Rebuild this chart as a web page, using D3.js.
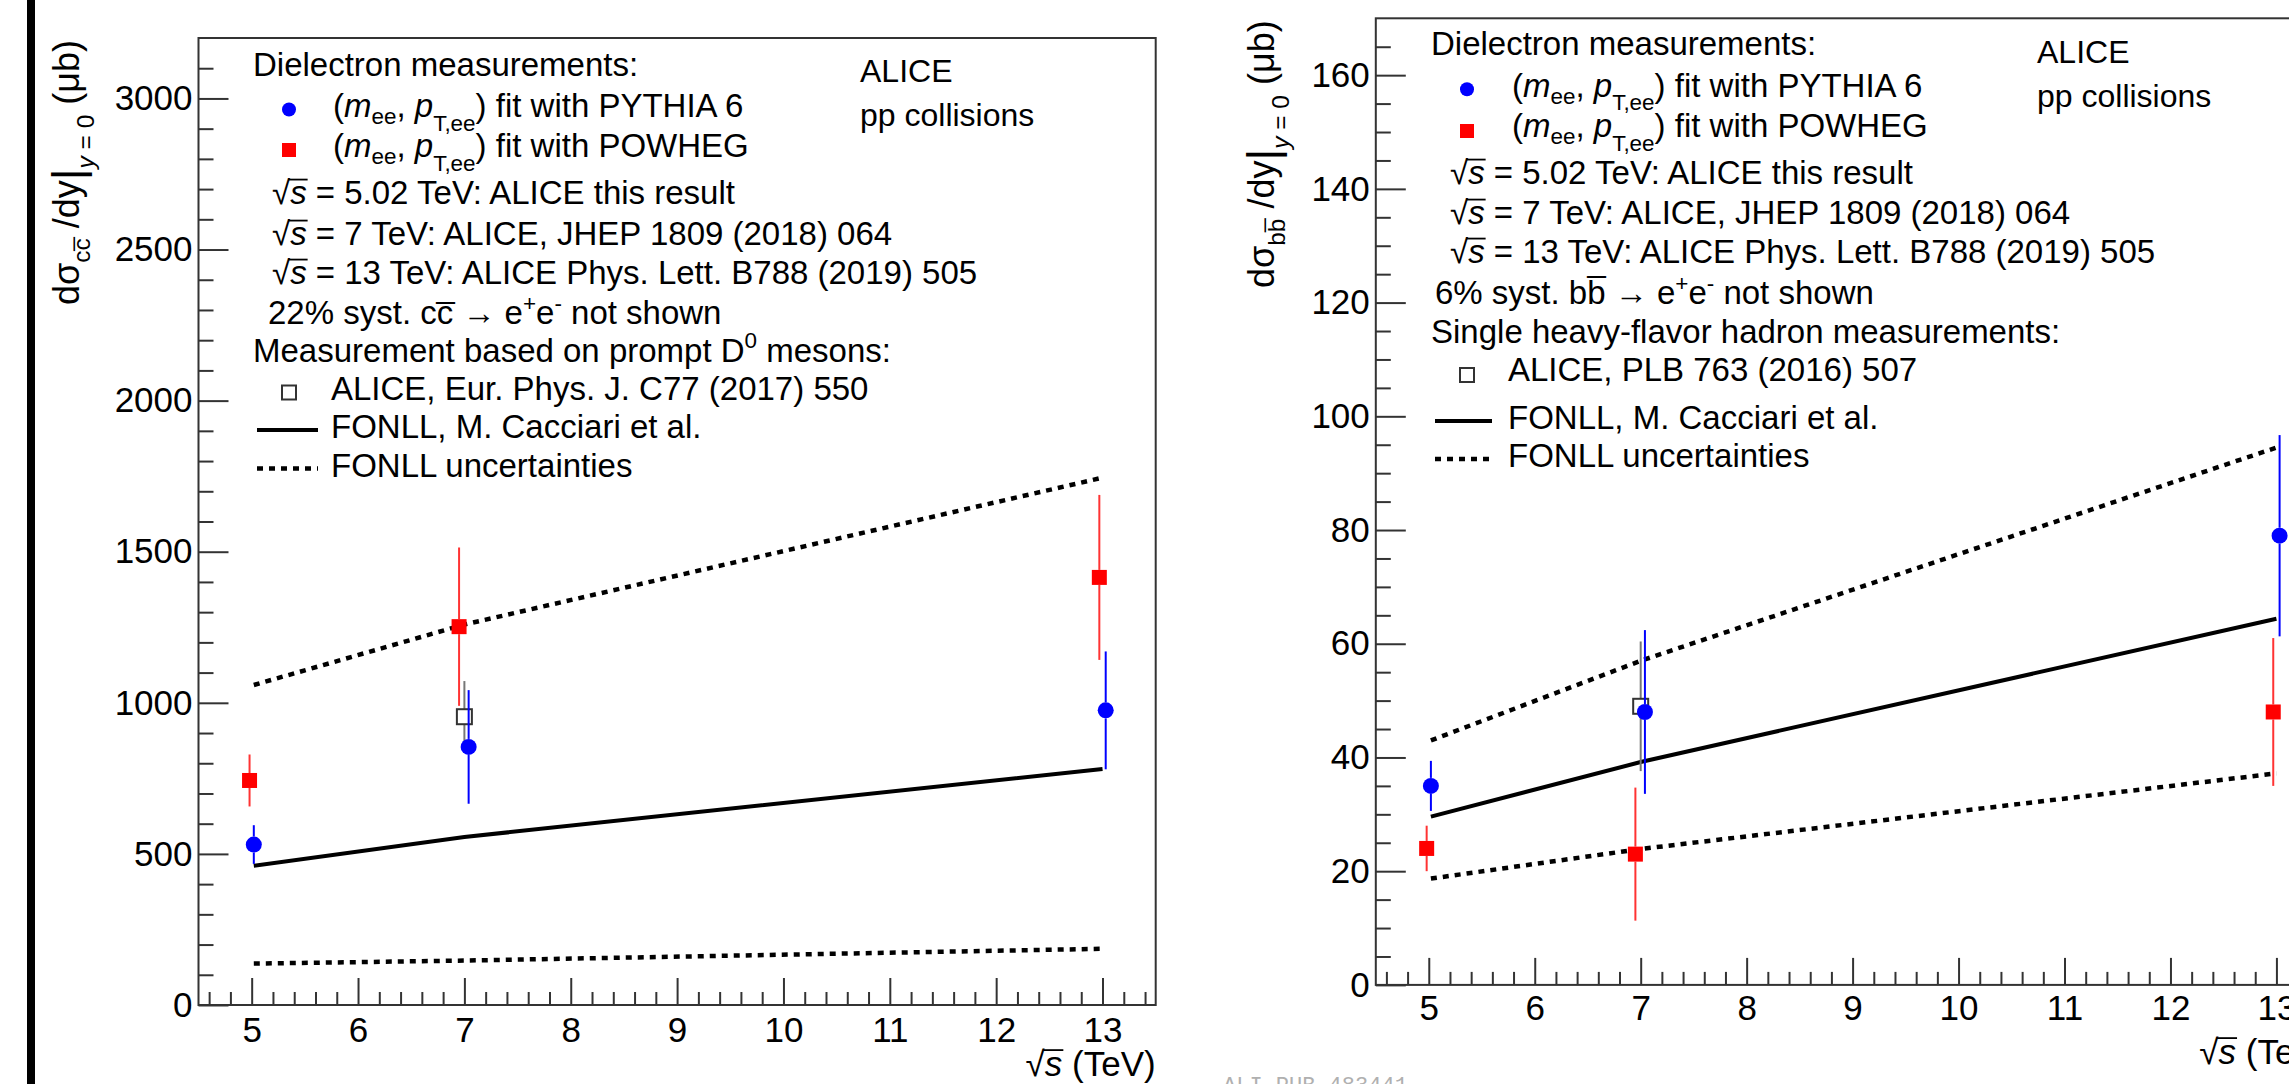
<!DOCTYPE html>
<html><head><meta charset="utf-8">
<script src="https://cdnjs.cloudflare.com/ajax/libs/d3/7.8.5/d3.min.js"></script>
<style>
html,body{margin:0;padding:0;background:#fff;overflow:hidden;}
svg{display:block;}
text{font-family:"Liberation Sans",Arial,Helvetica,sans-serif;fill:#000;white-space:pre;}
</style></head><body>
<svg id="c" width="2289" height="1084"></svg>
<script>
// ---------------- DATA ----------------
const energies = [5.02, 7, 13];          // FONLL evaluation points (TeV)
const pythiaX  = [5.02, 7.04, 13.03];    // drawn position of PYTHIA points
const powhegX  = [4.98, 6.95, 12.97];    // drawn position of POWHEG points
const refX     = [7.0];                  // reference (single-hadron) measurement
const xTicks   = [5, 6, 7, 8, 9, 10, 11, 12, 13];

// charm (left)
const ccPythia    = [531, 854, 975];
const ccPythiaErr = [64, 188, 195];
const ccPowheg    = [743, 1252, 1415];
const ccPowhegErr = [86, 262, 273];
const ccD0        = [954];
const ccD0Err     = [118];
const ccFonll     = [461, 556, 781];
const ccFonllHigh = [1059, 1259, 1745];
const ccFonllLow  = [137, 147, 186];
const ccYTicks    = [0, 500, 1000, 1500, 2000, 2500, 3000];

// beauty (right)
const bbPythia    = [35, 48, 79];
const bbPythiaErr = [4.4, 14.4, 17.7];
const bbPowheg    = [24, 23, 48];
const bbPowhegErr = [4, 11.7, 13];
const bbHadron    = [49];
const bbHadronErr = [11.4];
const bbFonll     = [29.6, 39.2, 64.4];
const bbFonllHigh = [43.0, 57.0, 94.5];
const bbFonllLow  = [18.7, 23.9, 37.2];
const bbYTicks    = [0, 20, 40, 60, 80, 100, 120, 140, 160];

// ---------------- DRAWING ----------------
const svg = d3.select('#c');
svg.append('rect').attr('width', 2289).attr('height', 1084).attr('fill', '#fff');
svg.append('rect').attr('x', 27).attr('y', 0).attr('width', 8).attr('height', 1084).attr('fill', '#000');

const BLUE = '#0000ff', RED = '#ff0000', FRAME = '#333';

function rich(t, parts, size) {
  let cur = 0;
  parts.forEach(p => {
    const o = (typeof p === 'string') ? {t: p} : p;
    const shift = (o.sub || 0) - (o.sup || 0);
    const fs = o.scale ? size * o.scale : ((o.sub || o.sup) ? size * 0.68 : size);
    const target = shift * size;
    t.append('tspan').attr('dy', (target - cur).toFixed(2)).attr('font-size', fs)
      .attr('font-style', o.i ? 'italic' : null).text(o.t);
    cur = target;
  });
  return t;
}

// bar over the argument of a square root (ROOT #sqrt{s} style)
function sqrtBar(g, t, baseY, size) {
  const n = t.node();
  try {
    const e0 = n.getExtentOfChar(0), e1 = n.getExtentOfChar(1);
    const yb = baseY - 0.74 * size;
    g.append('line').attr('x1', e0.x + e0.width - 1.5).attr('x2', e1.x + e1.width + 1)
      .attr('y1', yb).attr('y2', yb).attr('stroke', '#000').attr('stroke-width', 1.8);
  } catch (err) {}
}

function marker(g, type, cx, cy, s) {
  if (type === 'circle') g.append('circle').attr('cx', cx).attr('cy', cy).attr('r', s / 2).attr('fill', BLUE);
  else if (type === 'square') g.append('rect').attr('x', cx - s / 2).attr('y', cy - s / 2).attr('width', s).attr('height', s).attr('fill', RED);
  else if (type === 'open') g.append('rect').attr('x', cx - s / 2).attr('y', cy - s / 2).attr('width', s).attr('height', s).attr('fill', 'none').attr('stroke', '#333').attr('stroke-width', 2);
}

function drawPanel(cfg) {
  const x = d3.scaleLinear().domain([4.5, 13.5]).range([cfg.left, cfg.right]);
  const y = d3.scaleLinear().domain(cfg.yDomain).range([cfg.bottom, cfg.top]);
  const g = svg.append('g');

  // y axis major / minor
  const yMinor = d3.range(cfg.yMinorStep, cfg.yDomain[1] - 1e-6, cfg.yMinorStep)
    .filter(v => !cfg.yTicks.some(t => Math.abs(t - v) < 1e-6));
  g.append('g').attr('transform', `translate(${cfg.left},0)`).attr('color', FRAME)
    .call(d3.axisLeft(y).tickValues(yMinor).tickSizeInner(-15).tickSizeOuter(0).tickFormat(''))
    .call(s => s.select('.domain').remove())
    .selectAll('line').attr('stroke-width', 2);
  const ya = g.append('g').attr('transform', `translate(${cfg.left},0)`).attr('color', FRAME)
    .call(d3.axisLeft(y).tickValues(cfg.yTicks).tickSizeInner(-30).tickSizeOuter(0).tickPadding(6).tickFormat(d3.format('d')));
  ya.select('.domain').remove();
  ya.selectAll('line').attr('stroke-width', 2);
  ya.selectAll('text').attr('font-size', 35).attr('font-family', '"Liberation Sans",Arial,sans-serif').attr('fill', '#000');

  // x axis major / minor
  const xMinor = d3.range(46, 135, 2).map(v => v / 10).filter(v => Math.abs(v - Math.round(v)) > 1e-6);
  g.append('g').attr('transform', `translate(0,${cfg.bottom})`).attr('color', FRAME)
    .call(d3.axisBottom(x).tickValues(xMinor).tickSizeInner(-13).tickSizeOuter(0).tickFormat(''))
    .call(s => s.select('.domain').remove())
    .selectAll('line').attr('stroke-width', 2);
  const xa = g.append('g').attr('transform', `translate(0,${cfg.bottom})`).attr('color', FRAME)
    .call(d3.axisBottom(x).tickValues(xTicks).tickSizeInner(-27).tickSizeOuter(0).tickPadding(cfg.xPad).tickFormat(d3.format('d')));
  xa.select('.domain').remove();
  xa.selectAll('line').attr('stroke-width', 2);
  xa.selectAll('text').attr('font-size', 35).attr('font-family', '"Liberation Sans",Arial,sans-serif').attr('fill', '#000');

  // frame
  g.append('rect').attr('x', cfg.left).attr('y', cfg.top)
    .attr('width', cfg.right - cfg.left).attr('height', cfg.bottom - cfg.top)
    .attr('fill', 'none').attr('stroke', FRAME).attr('stroke-width', 2);

  // FONLL curves
  const line = d3.line().x(d => x(d[0])).y(d => y(d[1]));
  g.append('path').datum(d3.zip(energies, cfg.fonllHigh)).attr('d', line)
    .attr('fill', 'none').attr('stroke', '#000').attr('stroke-width', 4.5).attr('stroke-dasharray', '6,6');
  g.append('path').datum(d3.zip(energies, cfg.fonllLow)).attr('d', line)
    .attr('fill', 'none').attr('stroke', '#000').attr('stroke-width', 4.5).attr('stroke-dasharray', '6,6');
  g.append('path').datum(d3.zip(energies, cfg.fonll)).attr('d', line)
    .attr('fill', 'none').attr('stroke', '#000').attr('stroke-width', 4);

  // error bars + markers
  function series(xs, vals, errs, color, type, size) {
    xs.forEach((xv, i) => {
      const cx = x(xv), cy = y(vals[i]);
      const top = y(vals[i] + errs[i]), bot = y(vals[i] - errs[i]);
      g.append('line').attr('x1', cx).attr('x2', cx).attr('y1', top).attr('y2', cy - size / 2)
        .attr('stroke', color).attr('stroke-width', 2);
      g.append('line').attr('x1', cx).attr('x2', cx).attr('y1', cy + size / 2).attr('y2', bot)
        .attr('stroke', color).attr('stroke-width', 2);
      marker(g, type, cx, cy, size);
    });
  }
  series(refX, cfg.ref, cfg.refErr, '#777', 'open', 15);
  series(powhegX, cfg.powheg, cfg.powhegErr, '#ff3333', 'square', 15);
  series(pythiaX, cfg.pythia, cfg.pythiaErr, BLUE, 'circle', 16);

  // y title
  const yt = g.append('text').attr('transform', `translate(${cfg.yTitleX},${cfg.top + 2}) rotate(-90)`)
    .attr('text-anchor', 'end').attr('font-size', 36);
  rich(yt, cfg.yTitle, 36);
  // x title
  const xt = g.append('text').attr('x', cfg.right).attr('y', cfg.xTitleY)
    .attr('text-anchor', 'end').attr('font-size', 35);
  rich(xt, ['√', {t: 's', i: 1}, ' (TeV)'], 35);
  sqrtBar(g, xt, cfg.xTitleY, 35);

  // legend
  const L = cfg.legend;
  cfg.legendItems.forEach(it => {
    if (it.mark) marker(g, it.mark, L.markX, it.my, 14);
    if (it.line) {
      g.append('line').attr('x1', L.lineX0).attr('x2', L.lineX1).attr('y1', it.ly).attr('y2', it.ly)
        .attr('stroke', '#000').attr('stroke-width', it.line === 'dash' ? 4.5 : 4)
        .attr('stroke-dasharray', it.line === 'dash' ? '6,6' : null);
    }
    const t = g.append('text').attr('x', it.x).attr('y', it.y).attr('font-size', 33);
    rich(t, it.parts, 33);
    if (it.parts[0] === '√') sqrtBar(g, t, it.y, 33);
  });
  g.append('text').attr('x', L.aliceX).attr('y', L.aliceY).attr('font-size', 32).text('ALICE');
  g.append('text').attr('x', L.aliceX).attr('y', L.aliceY + 43.5).attr('font-size', 32).text('pp collisions');
}

const mPythia = ['(', {t: 'm', i: 1}, {t: 'ee', sub: 0.22}, ', ', {t: 'p', i: 1}, {t: 'T,ee', sub: 0.42}, ') fit with PYTHIA 6'];
const mPowheg = ['(', {t: 'm', i: 1}, {t: 'ee', sub: 0.22}, ', ', {t: 'p', i: 1}, {t: 'T,ee', sub: 0.42}, ') fit with POWHEG'];
const s502 = ['√', {t: 's', i: 1}, ' = 5.02 TeV: ALICE this result'];
const s7   = ['√', {t: 's', i: 1}, ' = 7 TeV: ALICE, JHEP 1809 (2018) 064'];
const s13  = ['√', {t: 's', i: 1}, ' = 13 TeV: ALICE Phys. Lett. B788 (2019) 505'];
const bar  = {t: '|', sub: 0.1, scale: 1.25};

// left panel (charm)
drawPanel({
  left: 198.5, right: 1155.7, top: 38, bottom: 1005,
  yDomain: [0, 3200], yTicks: ccYTicks, yMinorStep: 100, xPad: 12,
  pythia: ccPythia, pythiaErr: ccPythiaErr, powheg: ccPowheg, powhegErr: ccPowhegErr,
  ref: ccD0, refErr: ccD0Err, fonll: ccFonll, fonllHigh: ccFonllHigh, fonllLow: ccFonllLow,
  yTitleX: 79, xTitleY: 1076,
  yTitle: ['dσ', {t: 'cc\u0305', sub: 0.3}, ' /dy', bar, {t: 'y', i: 1, sub: 0.42}, {t: ' = 0', sub: 0.42}, ' (μb)'],
  legend: {markX: 289, lineX0: 257, lineX1: 318, aliceX: 860, aliceY: 82},
  legendItems: [
    {x: 253, y: 76, parts: ['Dielectron measurements:']},
    {x: 333, y: 117, parts: mPythia, mark: 'circle', my: 109.5},
    {x: 333, y: 157, parts: mPowheg, mark: 'square', my: 150},
    {x: 272, y: 204, parts: s502},
    {x: 272, y: 245, parts: s7},
    {x: 272, y: 284, parts: s13},
    {x: 268, y: 324, parts: ['22% syst. cc\u0305 → e', {t: '+', sup: 0.38}, 'e', {t: '-', sup: 0.38}, ' not shown']},
    {x: 253, y: 362, parts: ['Measurement based on prompt D', {t: '0', sup: 0.42}, ' mesons:']},
    {x: 331, y: 400, parts: ['ALICE, Eur. Phys. J. C77 (2017) 550'], mark: 'open', my: 392.5},
    {x: 331, y: 438, parts: ['FONLL, M. Cacciari et al.'], line: 'solid', ly: 430},
    {x: 331, y: 477, parts: ['FONLL uncertainties'], line: 'dash', ly: 468.5}
  ]
});

// right panel (beauty)
drawPanel({
  left: 1375.8, right: 2329.4, top: 18.3, bottom: 984.9,
  yDomain: [0, 170], yTicks: bbYTicks, yMinorStep: 5, xPad: 10,
  pythia: bbPythia, pythiaErr: bbPythiaErr, powheg: bbPowheg, powhegErr: bbPowhegErr,
  ref: bbHadron, refErr: bbHadronErr, fonll: bbFonll, fonllHigh: bbFonllHigh, fonllLow: bbFonllLow,
  yTitleX: 1274, xTitleY: 1064,
  yTitle: ['dσ', {t: 'bb\u0305', sub: 0.3}, ' /dy', bar, {t: 'y', i: 1, sub: 0.42}, {t: ' = 0', sub: 0.42}, ' (μb)'],
  legend: {markX: 1467, lineX0: 1435, lineX1: 1492, aliceX: 2037, aliceY: 63.3},
  legendItems: [
    {x: 1431, y: 55, parts: ['Dielectron measurements:']},
    {x: 1512, y: 96.5, parts: mPythia, mark: 'circle', my: 89.3},
    {x: 1512, y: 137, parts: mPowheg, mark: 'square', my: 131},
    {x: 1450, y: 184, parts: s502},
    {x: 1450, y: 224, parts: s7},
    {x: 1450, y: 263, parts: s13},
    {x: 1435, y: 304, parts: ['6% syst. bb\u0305 → e', {t: '+', sup: 0.38}, 'e', {t: '-', sup: 0.38}, ' not shown']},
    {x: 1431, y: 343, parts: ['Single heavy-flavor hadron measurements:']},
    {x: 1508, y: 381, parts: ['ALICE, PLB 763 (2016) 507'], mark: 'open', my: 375},
    {x: 1508, y: 429, parts: ['FONLL, M. Cacciari et al.'], line: 'solid', ly: 421},
    {x: 1508, y: 467, parts: ['FONLL uncertainties'], line: 'dash', ly: 459}
  ]
});

// watermark
svg.append('text').attr('x', 1223).attr('y', 1092).attr('font-size', 22)
  .style('font-family', '"Liberation Mono","Courier New",monospace')
  .style('fill', '#b0b0b0').text('ALI-PUB-483441');
</script>
</body></html>
